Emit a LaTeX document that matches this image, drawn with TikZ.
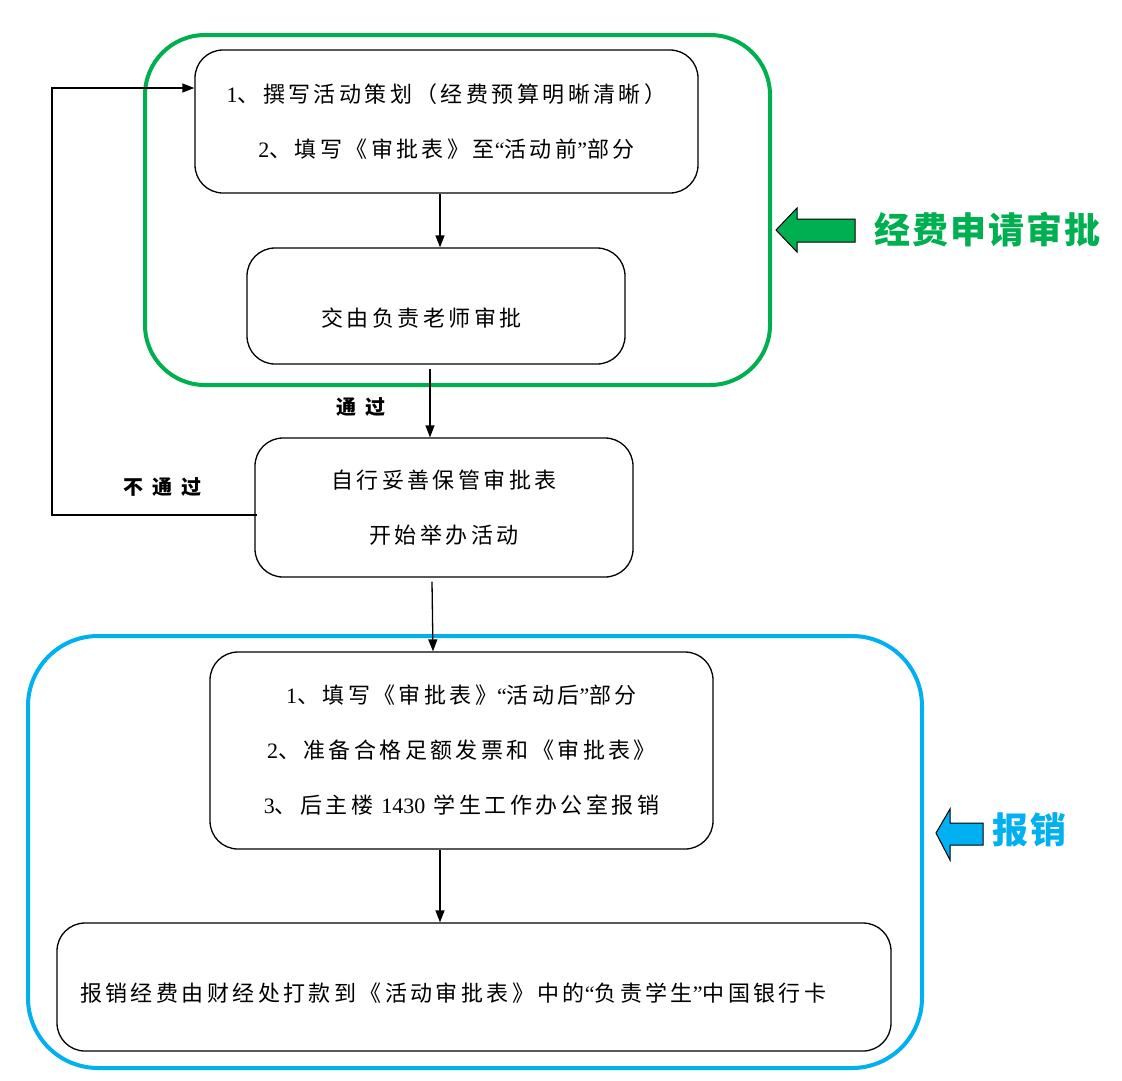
\documentclass[tikz,border=0pt]{standalone}
\usepackage{fontspec}
\setmainfont{Noto Sans CJK SC}[LetterSpace=15.5]
\newfontfamily\lat{Liberation Serif}
\newfontfamily\lbl{Noto Sans CJK SC}[LetterSpace=45]
\newfontfamily\ttl{Noto Sans CJK SC}[LetterSpace=6]
\usetikzlibrary{arrows.meta}
\definecolor{grn}{RGB}{0,176,80}
\definecolor{blu}{RGB}{0,176,240}
\begin{document}
\begin{tikzpicture}[x=1pt,y=-1pt,
  box/.style={draw,line width=1.3pt,rounded corners=28pt,inner sep=0pt},
  txt/.style={font=\fontsize{22}{55}\selectfont,align=center,inner sep=0pt},
  arr/.style={line width=1.3pt,-{Triangle[length=12pt,width=9pt]}},
  lab/.style={font=\lbl\bfseries\fontsize{20}{20}\selectfont,inner sep=0pt},
  ttlstyle/.style={font=\ttl\bfseries\fontsize{36}{36}\selectfont,anchor=west,inner sep=0pt},
  bigarr/.style={line width=1pt,draw=black}
]
\useasboundingbox (0,0) rectangle (1122,1080);
% containers
\draw[grn,line width=4pt,rounded corners=60pt] (145,35) rectangle (770,385);
\draw[blu,line width=4pt,rounded corners=70pt] (28,636) rectangle (922,1068);
% boxes
\node[box,txt,minimum width=503pt,minimum height=143pt] (b1) at (446.5,121.5)
  {{\lat 1}、撰写活动策划（经费预算明晰清晰）\\{\lat 2}、填写《审批表》至{\lat “}活动前{\lat ”}部分};
\node[box,minimum width=378pt,minimum height=116pt] (b2) at (436,306) {};
\node[txt] (t2) at (421.5,318) {交由负责老师审批};
\node[box,txt,minimum width=378pt,minimum height=139pt] (b3) at (444,507.5)
  {自行妥善保管审批表\\开始举办活动};
\node[box,txt,minimum width=503pt,minimum height=197pt] (b4) at (461.5,750.5)
  {{\lat 1}、填写《审批表》{\lat “}活动后{\lat ”}部分\\{\lat 2}、准备合格足额发票和《审批表》\\{\lat 3}、后主楼 {\lat 1430} 学生工作办公室报销};
\node[box,minimum width=834pt,minimum height=128pt] (b5) at (474,987) {};
\node[txt,anchor=west] (t5) at (80,993) {报销经费由财经处打款到《活动审批表》中的{\lat “}负责学生{\lat ”}中国银行卡};
% connectors
\draw[arr] ([xshift=-6.5pt]b1.south) -- ([xshift=-6.5pt]b1.south |- b2.north);
\draw[arr] ([xshift=-6pt,yshift=-4pt]b2.south) -- ([xshift=-6pt]b2.south |- b3.north);
\draw[arr] ([xshift=-12pt,yshift=-4pt]b3.south) -- ([xshift=-11pt]b3.south |- b4.north);
\draw[arr] ([xshift=-21.5pt]b4.south) -- ([xshift=-21.5pt]b4.south |- b5.north);
\coordinate (c1) at (52,515);
\coordinate (c2) at (52,88);
\draw[arr] ([xshift=3pt,yshift=-7.5pt]b3.west) -- (c1) -- (c2) -- ([yshift=33.5pt]b1.west);
% labels
\node[lab] (pass) at (361,407) {通过};
\node[lab] (fail) at (162,487) {不通过};
% side arrows and titles
\draw[bigarr,fill=grn] (776,230) -- (797,208) -- (797,219) -- (855,219) -- (855,242) -- (797,242) -- (797,252) -- cycle;
\node[ttlstyle,text=grn] (g) at (874,230) {经费申请审批};
\draw[bigarr,fill=blu] (936,833) -- (950,809) -- (950,823) -- (983,823) -- (983,845) -- (950,845) -- (950,860) -- cycle;
\node[ttlstyle,text=blu] (bx) at (992,830) {报销};
\end{tikzpicture}
\end{document}
